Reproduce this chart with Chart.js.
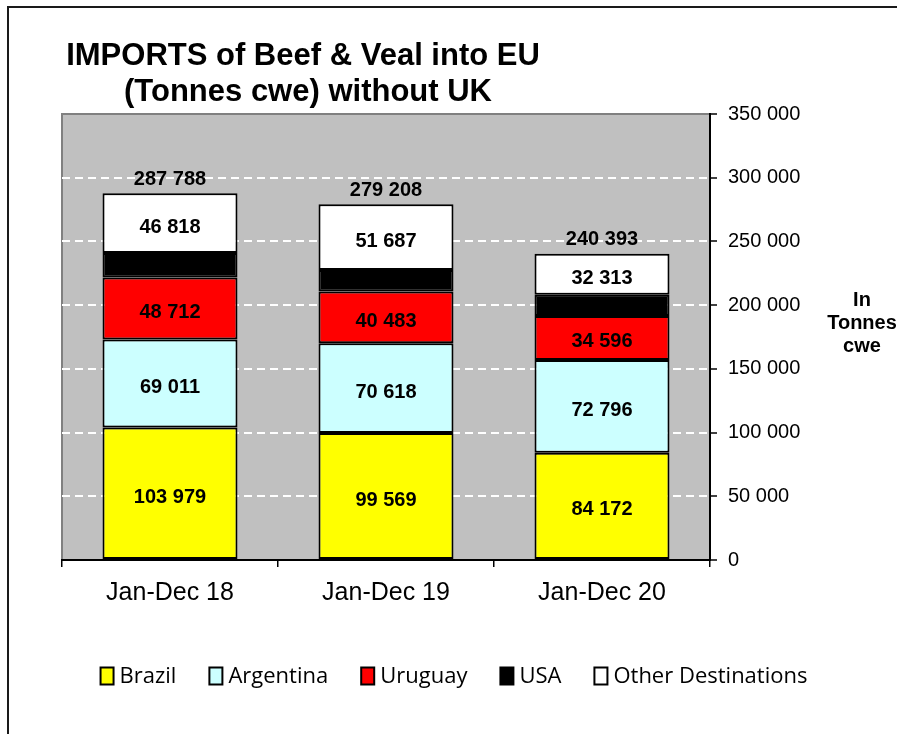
<!DOCTYPE html>
<html>
<head>
<meta charset="utf-8">
<script src="https://cdn.jsdelivr.net/npm/chart.js@4.4.1/dist/chart.umd.min.js"></script>
<style>
  html, body { margin: 0; padding: 0; background: #fff; overflow: hidden; }
  .frame { position: absolute; left: 7px; top: 6px; width: 1000px; height: 1000px; border: 2px solid #1a1a1a; }
  .wrap { position: absolute; left: 0; top: 0; width: 897px; height: 734px; }
</style>
</head>
<body>
<div class="frame"></div>
<div class="wrap"><canvas id="chart" width="897" height="734"></canvas></div>
<script>
// ---- data ----
const periods = ['Jan-Dec 18', 'Jan-Dec 19', 'Jan-Dec 20'];
const brazil = [103979, 99569, 84172];
const argentina = [69011, 70618, 72796];
const uruguay = [48712, 40483, 34596];
const usa = [19268, 16851, 16516];
const other = [46818, 51687, 32313];
const totals = [287788, 279208, 240393];
const yTicks = [0, 50000, 100000, 150000, 200000, 250000, 300000, 350000];

const titleLines = ['IMPORTS of Beef & Veal into EU', '(Tonnes cwe) without UK'];
const unitLines = ['In', 'Tonnes', 'cwe'];

// Excel-style colours
const seriesColors = {
  Brazil: '#ffff00',
  Argentina: '#ccffff',
  Uruguay: '#ff0000',
  USA: '#000000',
  'Other Destinations': '#ffffff'
};

const fmt = v => String(Math.round(v)).replace(/\B(?=(\d{3})+(?!\d))/g, ' ');
const ARIAL = '"Liberation Sans", Arial, sans-serif';

function makeSet(label, data, showLabel) {
  return {
    label: label,
    data: data,
    backgroundColor: seriesColors[label],
    borderColor: '#000',
    borderWidth: 2,
    borderSkipped: false,
    barPercentage: 0.625,
    categoryPercentage: 1.0,
    showValue: showLabel
  };
}

// grey plot background + outer texts
const decorPlugin = {
  id: 'decor',
  beforeDraw(chart) {
    const { ctx, chartArea: a } = chart;
    ctx.save();
    ctx.fillStyle = '#c0c0c0';
    ctx.fillRect(a.left, a.top, a.right - a.left, a.bottom - a.top);
    ctx.strokeStyle = '#808080';
    ctx.lineWidth = 2;
    ctx.beginPath();
    ctx.moveTo(a.left, a.bottom);
    ctx.lineTo(a.left, a.top);
    ctx.lineTo(a.right, a.top);
    ctx.stroke();
    ctx.restore();
  },
  afterDraw(chart) {
    const { ctx } = chart;
    ctx.save();
    ctx.fillStyle = '#000';
    ctx.textAlign = 'center';
    ctx.textBaseline = 'middle';

    // title
    ctx.font = 'bold 31px ' + ARIAL;
    ctx.fillText(titleLines[0], 303, 56);
    ctx.fillText(titleLines[1], 308, 92);

    // unit label on the right
    ctx.font = 'bold 20px ' + ARIAL;
    unitLines.forEach((t, i) => ctx.fillText(t, 862, 300 + i * 23));

    // legend
    ctx.font = '22px "Liberation Sans Narrow", "Open Sans", sans-serif';
    ctx.textAlign = 'left';
    const items = chart.data.datasets;
    const boxW = 13, boxH = 17, gapText = 6, gapItem = 33;
    let total = 0;
    const widths = items.map(ds => ctx.measureText(ds.label).width);
    widths.forEach(w => { total += boxW + gapText + w; });
    total += gapItem * (items.length - 1);
    let x = 454 - total / 2;
    const y = 676;
    items.forEach((ds, i) => {
      ctx.fillStyle = ds.backgroundColor;
      ctx.fillRect(x, y - boxH / 2, boxW, boxH);
      ctx.strokeStyle = '#000';
      ctx.lineWidth = 2;
      ctx.strokeRect(x, y - boxH / 2, boxW, boxH);
      ctx.fillStyle = '#000';
      ctx.fillText(ds.label, x + boxW + gapText, y + 1);
      x += boxW + gapText + widths[i] + gapItem;
    });
    ctx.restore();
  }
};

// values inside segments + totals on top
const valuePlugin = {
  id: 'values',
  afterDatasetsDraw(chart) {
    const { ctx } = chart;
    ctx.save();
    ctx.font = 'bold 20px ' + ARIAL;
    ctx.fillStyle = '#000';
    ctx.textAlign = 'center';
    ctx.textBaseline = 'middle';
    chart.data.datasets.forEach((ds, di) => {
      if (!ds.showValue) return;
      chart.getDatasetMeta(di).data.forEach((bar, i) => {
        const mid = (bar.y + bar.base) / 2 + 4;
        ctx.fillText(fmt(ds.data[i]), bar.x, mid);
      });
    });
    const topMeta = chart.getDatasetMeta(chart.data.datasets.length - 1);
    const yScale = chart.scales.y;
    topMeta.data.forEach((bar, i) => {
      ctx.fillText(fmt(totals[i]), bar.x, yScale.getPixelForValue(totals[i]) - 14);
    });
    ctx.restore();
  }
};

new Chart(document.getElementById('chart'), {
  type: 'bar',
  data: {
    labels: periods,
    datasets: [
      makeSet('Brazil', brazil, true),
      makeSet('Argentina', argentina, true),
      makeSet('Uruguay', uruguay, true),
      makeSet('USA', usa, false),
      makeSet('Other Destinations', other, true)
    ]
  },
  options: {
    responsive: false,
    animation: false,
    devicePixelRatio: 1,
    layout: {
      padding: { left: 62, top: 114, right: 87, bottom: 114 }
    },
    plugins: {
      legend: { display: false },
      title: { display: false },
      tooltip: { enabled: false }
    },
    scales: {
      x: {
        stacked: true,
        grid: {
          display: true,
          offset: true,
          drawOnChartArea: false,
          color: '#000',
          tickLength: 7,
          lineWidth: 1.5
        },
        border: { color: '#000', width: 2 },
        ticks: {
          color: '#000',
          font: { family: ARIAL, size: 25 },
          padding: 11
        },
        afterFit(scale) { scale.height = 60; }
      },
      y: {
        stacked: true,
        position: 'right',
        min: 0,
        max: 350000,
        afterBuildTicks(scale) { scale.ticks = yTicks.map(v => ({ value: v })); },
        grid: {
          color: ctx => (ctx.tick && (ctx.tick.value === 0 || ctx.tick.value === 350000)) ? 'rgba(0,0,0,0)' : '#ffffff',
          lineWidth: 2,
          tickColor: '#000',
          tickLength: 7,
          tickWidth: 1.5,
          tickBorderDash: []
        },
        border: { color: '#000', width: 2, dash: [8, 5] },
        ticks: {
          color: '#000',
          font: { family: ARIAL, size: 20 },
          padding: 11,
          callback: v => fmt(v)
        },
        afterFit(scale) { scale.width = 100; }
      }
    }
  },
  plugins: [decorPlugin, valuePlugin]
});
</script>
</body>
</html>
